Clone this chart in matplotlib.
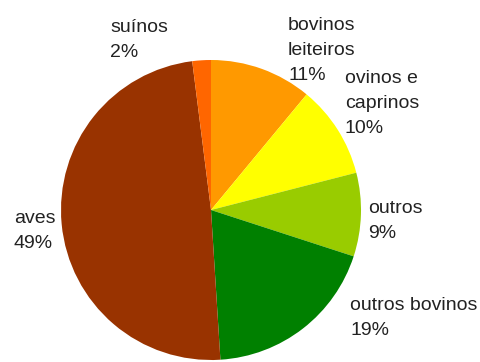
import matplotlib.pyplot as plt

# participação por rebanho (%), sentido horário a partir do topo
categorias = ["bovinos\nleiteiros", "ovinos e\ncaprinos", "outros", "outros bovinos", "aves", "suínos"]
valores = [11, 10, 9, 19, 49, 2]
cores = ["#FF9900", "#FFFF00", "#99CC00", "#008000", "#993300", "#FF6600"]

# posição dos rótulos em pixels (x esquerdo, linha de base da 1a linha)
pos_rotulos = [(288, 30), (345, 83), (368, 213), (350, 310), (14, 223), (110, 32)]

W, H = 480, 362
fig = plt.figure(figsize=(W / 100, H / 100), dpi=100)
ax = fig.add_axes([0, 0, 1, 1])
ax.set_xlim(0, W)
ax.set_ylim(0, H)
ax.axis("off")

ax.pie(valores, colors=cores, startangle=90, counterclock=False,
       center=(211, H - 210), radius=150, frame=True,
       wedgeprops=dict(linewidth=0, antialiased=True))
ax.set_xlim(0, W)
ax.set_ylim(0, H)
ax.set_aspect("equal")
ax.axis("off")

for nome, v, (x, y) in zip(categorias, valores, pos_rotulos):
    linhas = nome.split("\n") + [f"{v}%"]
    for i, txt in enumerate(linhas):
        ax.text(x, H - (y + 25 * i), txt, fontsize=14, family="Liberation Sans",
                color="#222222", ha="left", va="baseline")

fig.savefig("out.png", dpi=100)
